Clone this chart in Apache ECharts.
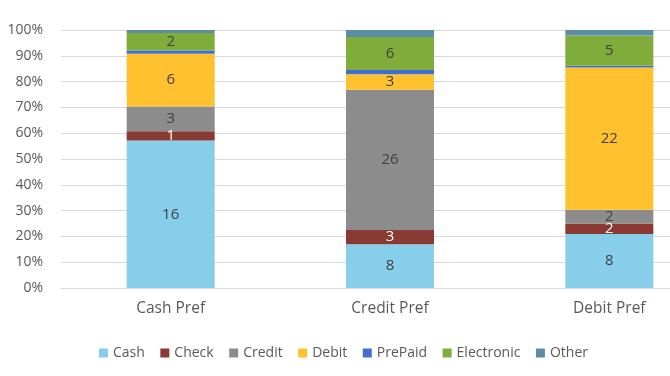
<!DOCTYPE html>
<html>
<head>
<meta charset="utf-8">
<script src="https://cdn.jsdelivr.net/npm/echarts@6/dist/echarts.min.js"></script>
<style>
    html, body { margin: 0; padding: 0; background: #fff; }
    #chart { width: 670px; height: 376px; }
</style>
</head>
<body>
<div id="chart"></div>
<script>
// categories and series (raw counts)
var categories = ['Cash Pref', 'Credit Pref', 'Debit Pref'];
var seriesNames = ['Cash', 'Check', 'Credit', 'Debit', 'PrePaid', 'Electronic', 'Other'];
var cash = [16, 8, 8.2];
var check = [1.0, 2.6, 1.6];
var credit = [2.7, 25.6, 2.1];
var debit = [5.7, 2.8, 21.6];
var prepaid = [0.36, 0.8, 0.25];
var electronic = [1.9, 6.0, 4.6];
var other = [0.33, 1.3, 0.85];
var yTicks = ['0%', '10%', '20%', '30%', '40%', '50%', '60%', '70%', '80%', '90%', '100%'];

var rawData = [cash, check, credit, debit, prepaid, electronic, other];
var colors = ['#87CEEB', '#8B3A33', '#8C8C8C', '#FFC12E', '#3F6FD1', '#7FAC3A', '#5B8EA6'];
var labelColors = ['#404040', '#ffffff', '#404040', '#404040', null, '#404040', null];

// totals per category, for the 100% stack
var totals = categories.map(function (c, i) {
    var s = 0;
    rawData.forEach(function (arr) { s += arr[i]; });
    return s;
});

var chart = echarts.init(document.getElementById('chart'));

var series = seriesNames.map(function (name, k) {
    return {
        name: name,
        type: 'bar',
        stack: 'total',
        barWidth: 88,
        itemStyle: { color: colors[k] },
        data: rawData[k].map(function (v, i) { return v / totals[i] * 100; }),
        label: {
            show: labelColors[k] !== null,
            position: 'inside',
            color: labelColors[k] || '#404040',
            fontSize: 15,
            formatter: function (p) {
                return Math.round(rawData[k][p.dataIndex]);
            }
        }
    };
});

var option = {
    animation: false,
    textStyle: { fontFamily: '"Open Sans", sans-serif' },
    grid: {
        left: 61,
        top: 30,
        bottom: 88,
        width: 658,
        outerBoundsMode: 'none',
        containLabel: false
    },
    legend: {
        left: 94,
        top: 341,
        itemWidth: 9,
        itemHeight: 9,
        itemGap: 15.5,
        icon: 'rect',
        textStyle: { color: '#595959', fontSize: 14 },
        data: seriesNames
    },
    xAxis: {
        type: 'category',
        data: categories,
        axisTick: { show: false },
        axisLine: { lineStyle: { color: '#D9D9D9' } },
        axisLabel: { color: '#595959', fontSize: 15.5, margin: 13 }
    },
    yAxis: {
        type: 'value',
        min: 0,
        max: 100,
        interval: 10,
        axisLabel: {
            color: '#595959',
            fontSize: 14,
            margin: 18,
            formatter: function (v) { return yTicks[Math.round(v / 10)]; }
        },
        splitLine: { lineStyle: { color: '#D9D9D9' } }
    },
    series: series
};

chart.setOption(option);
</script>
</body>
</html>
